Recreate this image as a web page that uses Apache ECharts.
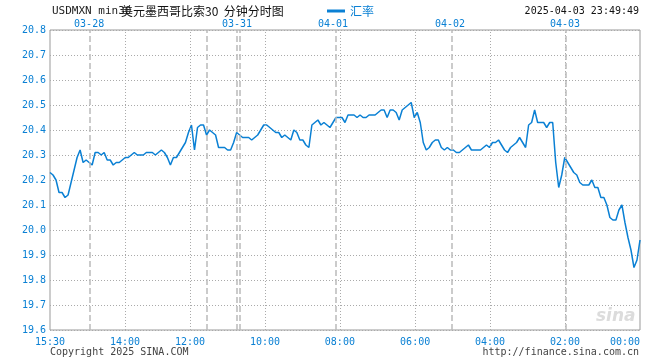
<!DOCTYPE html>
<html>
<head>
<meta charset="utf-8">
<script src="https://cdn.jsdelivr.net/npm/echarts@6/dist/echarts.min.js"></script>
<style>html,body{margin:0;padding:0;background:#fff;}#c{width:660px;height:360px;}</style>
</head>
<body>
<div id="c"></div>
<script>
// ---- data ----
const rates = [
20.23,20.22,20.20,20.15,20.15,20.13,20.14,20.19,20.24,20.29,
20.32,20.27,20.28,20.27,20.26,20.31,20.31,20.30,20.31,20.28,
20.28,20.26,20.27,20.27,20.28,20.29,20.29,20.30,20.31,20.30,
20.30,20.30,20.31,20.31,20.31,20.30,20.31,20.32,20.31,20.29,
20.26,20.29,20.29,20.31,20.33,20.35,20.39,20.42,20.32,20.41,
20.42,20.42,20.38,20.40,20.39,20.38,20.33,20.33,20.33,20.32,
20.32,20.35,20.39,20.38,20.37,20.37,20.37,20.36,20.37,20.38,
20.40,20.42,20.42,20.41,20.40,20.39,20.39,20.37,20.38,20.37,
20.36,20.40,20.39,20.36,20.36,20.34,20.33,20.42,20.43,20.44,
20.42,20.43,20.42,20.41,20.43,20.45,20.45,20.45,20.43,20.46,
20.46,20.46,20.45,20.46,20.45,20.45,20.46,20.46,20.46,20.47,
20.48,20.48,20.45,20.48,20.48,20.47,20.44,20.48,20.49,20.50,
20.51,20.45,20.47,20.43,20.35,20.32,20.33,20.35,20.36,20.36,
20.33,20.32,20.33,20.32,20.32,20.31,20.31,20.32,20.33,20.34,
20.32,20.32,20.32,20.32,20.33,20.34,20.33,20.35,20.35,20.36,
20.34,20.32,20.31,20.33,20.34,20.35,20.37,20.35,20.33,20.42,
20.43,20.48,20.43,20.43,20.43,20.41,20.43,20.43,20.27,20.17,
20.22,20.29,20.27,20.25,20.23,20.22,20.19,20.18,20.18,20.18,
20.20,20.17,20.17,20.13,20.13,20.10,20.05,20.04,20.04,20.08,
20.10,20.03,19.97,19.92,19.85,19.88,19.96
];
const timeLabels = ['15:30','14:00','12:00','10:00','08:00','06:00','04:00','02:00','00:00'];
const timeTickPos = [0, 24.9, 46.5, 71.4, 96.3, 121.3, 146.2, 171.1, 196];
const dateLabels = ['03-28','03-31','04-01','04-02','04-03'];
const dateTickPos = [13.0, 62.1, 94.0, 132.9, 171.1];
const dayBreaks = [13.3, 52.2, 62.1, 62.9, 95.0, 133.5, 171.4];
const yMin = 19.6, yMax = 20.8, yStep = 0.1;
const seriesName = '汇率';
const titleLatin = 'USDMXN min30';
const titleCN = '美元墨西哥比索30  分钟分时图';
const stamp = '2025-04-03 23:49:49';

// ---- chart ----
const BLUE = '#0a80d4';
const MONO = 'DejaVu Sans Mono';
const lastIdx = rates.length - 1;
const chart = echarts.init(document.getElementById('c'), null, {renderer: 'canvas'});

const markData = [];
timeTickPos.slice(1, -1).forEach(v => markData.push({xAxis: v, lineStyle: {type: [1, 2], color: '#aaa', width: 1}}));
dayBreaks.forEach(v => markData.push({xAxis: v, lineStyle: {type: [6, 3], color: '#bbb', width: 1.5}}));

chart.setOption({
  animation: false,
  grid: {left: 50, right: 20, top: 30, bottom: 30, show: true, borderColor: '#999', borderWidth: 1, containLabel: false},
  legend: {
    data: [seriesName], left: 327, top: 5, padding: 0, icon: 'rect', itemWidth: 18, itemHeight: 3, itemGap: 5,
    textStyle: {color: BLUE, fontSize: 12, fontFamily: 'Noto Sans CJK SC', padding: [0, 0, 0, 0]}
  },
  xAxis: [{
    type: 'value', min: 0, max: lastIdx, position: 'bottom',
    axisLine: {show: false}, axisTick: {show: false}, splitLine: {show: false},
    axisLabel: {
      customValues: timeTickPos, color: BLUE, fontFamily: MONO, fontSize: 10, margin: 7,
      alignMaxLabel: 'right',
      formatter: v => timeLabels[timeTickPos.indexOf(v)] || ''
    }
  }, {
    type: 'value', min: 0, max: lastIdx, position: 'top',
    axisLine: {show: false}, axisTick: {show: false}, splitLine: {show: false},
    axisLabel: {
      customValues: dateTickPos, color: BLUE, fontFamily: MONO, fontSize: 10, margin: 1, lineHeight: 10,
      formatter: v => dateLabels[dateTickPos.indexOf(v)] || ''
    }
  }],
  yAxis: {
    type: 'value', min: yMin, max: yMax, interval: yStep,
    axisLine: {show: false}, axisTick: {show: false},
    splitLine: {show: true, lineStyle: {type: [1, 2], color: '#aaa', width: 1}},
    axisLabel: {color: BLUE, fontFamily: MONO, fontSize: 10, margin: 4, formatter: v => v.toFixed(1)}
  },
  series: [{
    name: seriesName, type: 'line', xAxisIndex: 0,
    data: rates.map((v, i) => [i, v]),
    showSymbol: false, symbol: 'none',
    lineStyle: {color: BLUE, width: 1.5}, itemStyle: {color: BLUE},
    markLine: {silent: true, symbol: ['none', 'none'], label: {show: false}, animation: false, data: markData}
  }],
  graphic: [
    {type: 'text', left: 52, top: 6, style: {text: titleLatin, font: '11px "DejaVu Sans Mono"', fill: '#222'}},
    {type: 'text', left: 121, top: 5, style: {text: titleCN, font: '12px "Noto Sans CJK SC"', fill: '#111'}},
    {type: 'text', right: 21, top: 6, style: {text: stamp, font: '10px "DejaVu Sans Mono"', fill: '#111'}},
    {type: 'text', left: 50, top: 347, style: {text: 'Copyright 2025 SINA.COM', font: '10px "DejaVu Sans Mono"', fill: '#444'}},
    {type: 'text', right: 21, top: 347, style: {text: 'http://finance.sina.com.cn', font: '10px "DejaVu Sans Mono"', fill: '#444'}},
    {type: 'text', left: 596, top: 308, z: -1, style: {text: 'sina', font: 'italic bold 17px "DejaVu Sans"', fill: '#dcdcdc'}}
  ]
});
</script>
</body>
</html>
